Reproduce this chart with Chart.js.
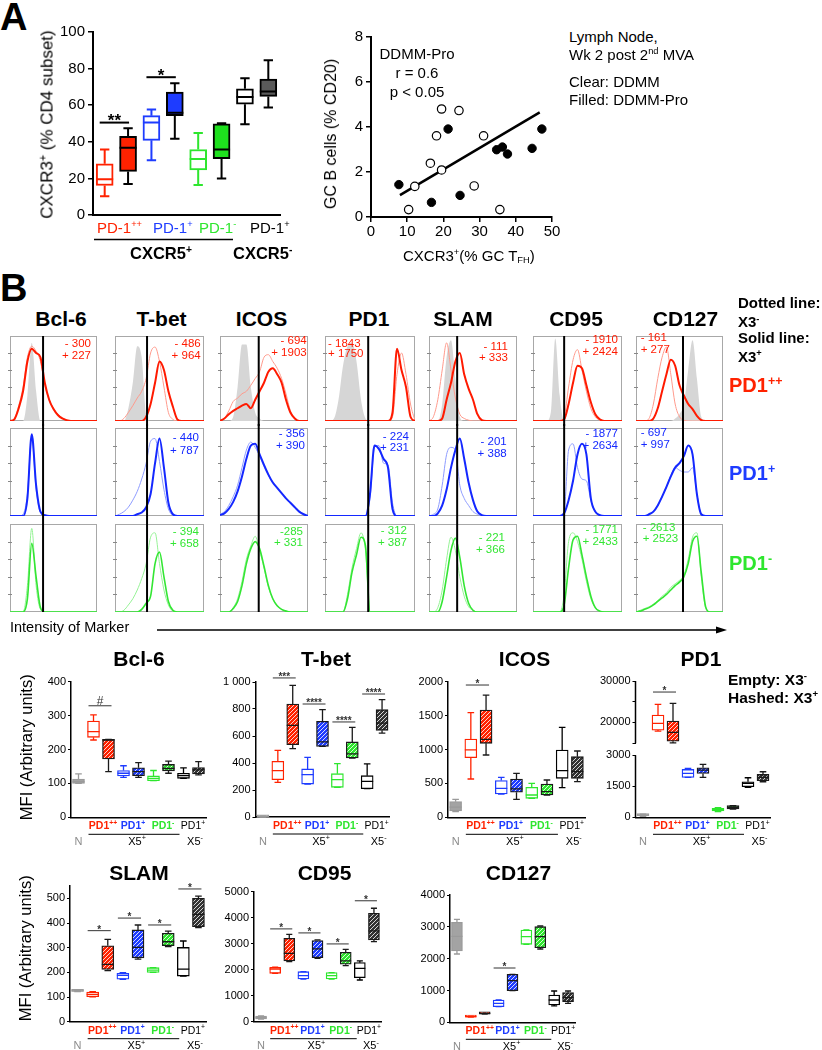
<!DOCTYPE html>
<html>
<head>
<meta charset="utf-8">
<script src="https://cdn.jsdelivr.net/npm/chart.js@4.4.1/dist/chart.umd.min.js"></script>
<style>
html,body{margin:0;padding:0;background:#fff;}
body{position:relative;width:822px;height:1050px;overflow:hidden;font-family:'Liberation Sans',Arial,Helvetica,sans-serif;}
canvas{position:absolute;}
.t{position:absolute;white-space:nowrap;line-height:1;}
.up{font-size:62%;position:relative;top:-0.6em;}
.dn{font-size:62%;position:relative;top:0.25em;}
svg{position:absolute;left:0;top:0;}
</style>
</head>
<body>
<svg width="822" height="1050">
  <line x1="94" y1="239.5" x2="233" y2="239.5" stroke="#000" stroke-width="1.5"/>
  <line x1="157" y1="630" x2="719" y2="630" stroke="#000" stroke-width="1.5"/>
  <polygon points="716,626.5 727,630 716,633.5" fill="#000"/>
</svg>
<script>
// ================= DATA =================
// Panel A : CXCR3+ (% CD4 subset)
const aCats = ['PD-1++ DDMM','PD-1++ DDMM-Pro','PD-1+ DDMM','PD-1+ DDMM-Pro','PD-1- DDMM','PD-1- DDMM-Pro','CXCR5- PD-1+ DDMM','CXCR5- PD-1+ DDMM-Pro'];
const aMin = [10.3, 17.0, 29.9, 41.7, 16.4, 20.0, 49.6, 58.7];
const aQ1  = [16.1, 23.8, 40.8, 54.3, 24.7, 30.8, 60.5, 64.8];
const aMed = [19.6, 36.7, 50.5, 55.9, 30.6, 35.8, 64.5, 67.5];
const aQ3  = [28.0, 43.0, 54.3, 67.2, 35.8, 49.8, 69.0, 74.3];
const aMax = [35.8, 47.4, 57.7, 72.0, 44.8, 50.1, 74.7, 84.6];
const aTicks = ['0','20','40','60','80','100'];
const aSig = [{a:0,b:1,y:50.5,t:'**',gap:6.7},{a:2,b:3,y:75.3,t:'*',gap:5.7}];

// Panel A : scatter
const ddmmX = [12.1, 10.4, 16.4, 18.1, 19.5, 28.5, 31.1, 35.6, 19.5, 24.3];
const ddmmY = [1.36, 0.33, 2.39, 3.61, 2.09, 1.38, 3.61, 0.33, 4.80, 4.73];
const proX  = [7.7, 21.3, 16.7, 24.6, 34.7, 36.3, 37.7, 44.5, 47.2];
const proY  = [1.44, 3.91, 0.65, 0.96, 2.99, 3.11, 2.80, 3.05, 3.91];
const fitX  = [8.0, 46.6];
const fitY  = [0.97, 4.65];

// Panel B : histograms (x = 0..100 % of panel, y = % of mode)
const markers = ['Bcl-6','T-bet','ICOS','PD1','SLAM','CD95','CD127'];
const histX = [0,5,10,15,20,25,30,35,40,45,50,55,60,65,70,75,80,85,90,95,100];
const gateX = [38, 36, 44, 48, 32, 35, 54];

const hBcl6Gray  = [0,0,0,0,30,92,35,0,0,0,0,0,0,0,0,0,0,0,0,0,0];
const hBcl6PPdot = [0,3,18,40,75,88,82,70,42,25,15,8,4,1,0,0,0,0,0,0,0];
const hBcl6PPsol = [0,2,15,35,70,85,80,75,45,25,14,7,3,1,0,0,0,0,0,0,0];
const hBcl6Pdot  = [0,0,0,2,25,90,30,4,1,0,0,0,0,0,0,0,0,0,0,0,0];
const hBcl6Psol  = [0,0,0,0,20,93,35,5,1,0,0,0,0,0,0,0,0,0,0,0,0];
const hBcl6Ndot  = [0,0,0,0,30,95,30,3,0,0,0,0,0,0,0,0,0,0,0,0,0];
const hBcl6Nsol  = [0,0,0,0,15,78,40,5,0,0,0,0,0,0,0,0,0,0,0,0,0];

const hTbetGray  = [0,0,0,15,45,88,75,8,0,0,0,0,0,0,0,0,0,0,0,0,0];
const hTbetPPdot = [0,0,3,10,18,27,35,50,80,87,70,40,10,2,0,0,0,0,0,0,0];
const hTbetPPsol = [0,0,0,0,0,0,0,5,20,45,70,60,35,17,2,0,0,0,0,0,0];
const hTbetPdot  = [0,2,5,10,18,28,42,60,85,88,62,30,8,1,0,0,0,0,0,0,0];
const hTbetPsol  = [0,0,0,0,0,2,4,10,25,60,88,55,15,2,0,0,0,0,0,0,0];
const hTbetNdot  = [0,0,2,8,15,25,38,55,85,90,55,25,8,1,0,0,0,0,0,0,0];
const hTbetNsol  = [0,0,0,0,0,0,3,10,18,55,68,40,12,2,0,0,0,0,0,0,0];

const hIcosGray  = [0,0,0,5,40,90,90,40,10,3,0,0,0,0,0,0,0,0,0,0,0];
const hIcosPPdot = [0,3,12,23,27,32,35,42,50,58,75,78,70,62,50,32,12,3,0,0,0];
const hIcosPPsol = [0,3,8,12,15,18,20,15,25,35,45,58,62,55,45,25,10,3,0,0,0];
const hIcosPdot  = [2,5,12,22,35,55,75,84,78,68,56,46,38,32,26,20,15,10,5,2,0];
const hIcosPsol  = [1,3,8,16,28,45,65,80,82,70,58,47,38,32,26,20,15,10,5,2,0];
const hIcosNdot  = [0,0,0,5,15,35,60,75,86,70,50,28,15,7,3,1,0,0,0,0,0];
const hIcosNsol  = [0,0,0,4,12,30,55,72,80,72,52,30,15,7,3,1,0,0,0,0,0];

const hPd1Gray   = [0,0,3,25,65,88,92,70,25,3,0,0,0,0,0,0,0,0,0,0,0];
const hPd1PPdot  = [0,0,0,0,0,0,0,0,0,0,0,0,0,0,0,5,55,80,55,20,0];
const hPd1PPsol  = [0,0,0,0,0,0,0,0,0,0,0,0,0,0,0,10,85,60,40,5,0];
const hPd1Pdot   = [0,0,0,0,0,0,0,0,0,0,20,78,80,60,58,15,0,0,0,0,0];
const hPd1Psol   = [0,0,0,0,0,0,0,0,0,0,25,80,76,65,55,8,0,0,0,0,0];
const hPd1Ndot   = [0,0,0,0,0,20,50,72,90,70,0,0,0,0,0,0,0,0,0,0,0];
const hPd1Nsol   = [0,0,0,0,0,15,45,65,85,75,0,0,0,0,0,0,0,0,0,0,0];

const hSlamGray  = [0,0,0,20,75,95,50,5,0,0,0,0,0,0,0,0,0,0,0,0,0];
const hSlamPPdot = [0,5,25,60,92,60,27,8,3,1,0,0,0,0,0,0,0,0,0,0,0];
const hSlamPPsol = [0,0,0,3,25,45,70,80,55,38,25,8,1,0,0,0,0,0,0,0,0];
const hSlamPdot  = [0,2,8,35,70,78,75,35,20,12,5,2,0,0,0,0,0,0,0,0,0];
const hSlamPsol  = [0,0,3,12,30,55,75,88,65,38,18,5,1,0,0,0,0,0,0,0,0];
const hSlamNdot  = [0,0,5,25,60,85,70,40,18,6,2,0,0,0,0,0,0,0,0,0,0];
const hSlamNsol  = [0,0,0,12,40,70,84,62,30,10,2,0,0,0,0,0,0,0,0,0,0];

const hCd95Gray  = [0,0,0,0,10,97,30,0,0,0,0,0,0,0,0,0,0,0,0,0,0];
const hCd95PPdot = [0,0,0,0,0,0,0,5,40,72,84,60,35,15,5,1,0,0,0,0,0];
const hCd95PPsol = [0,0,0,0,0,0,0,2,20,45,65,62,42,22,8,2,0,0,0,0,0];
const hCd95Pdot  = [0,0,0,0,0,0,0,5,75,82,55,42,40,18,5,1,0,0,0,0,0];
const hCd95Psol  = [0,0,0,0,0,0,0,3,18,40,70,82,70,20,5,1,0,0,0,0,0];
const hCd95Ndot  = [0,0,0,0,0,0,0,20,80,90,80,60,35,15,5,1,0,0,0,0,0];
const hCd95Nsol  = [0,0,0,0,0,0,0,8,50,82,86,65,40,18,5,1,0,0,0,0,0];

const hCd127Gray  = [0,0,0,0,0,0,0,0,0,3,8,20,60,95,50,5,0,0,0,0,0];
const hCd127PPdot = [0,0,0,3,20,50,75,87,55,20,5,1,0,0,0,0,0,0,0,0,0];
const hCd127PPsol = [0,0,0,0,3,15,35,55,72,65,42,30,20,14,6,1,0,0,0,0,0];
const hCd127Pdot  = [0,0,0,2,5,12,22,33,46,55,52,50,50,55,25,2,0,0,0,0,0];
const hCd127Psol  = [0,0,0,2,5,12,22,33,45,55,60,68,80,70,25,2,0,0,0,0,0];
const hCd127Ndot  = [0,2,4,6,9,13,18,22,28,32,36,42,60,85,90,40,5,0,0,0,0];
const hCd127Nsol  = [0,1,3,5,8,12,16,20,25,30,34,40,55,80,86,45,6,0,0,0,0];

// MFI annotations (X3- / X3+) per row (PD1++, PD1+, PD1-) and marker
const annNeg = [['- 300','- 486','- 694','- 1843','- 111','- 1910','- 161'],
                [null,'- 440','- 356','- 224','- 201','- 1877','- 697'],
                [null,'- 394','-285','- 312','- 221','- 1771','- 2613']];
const annPos = [['+ 227','+ 964','+ 1903','+ 1750','+ 333','+ 2424','+ 277'],
                [null,'+ 787','+ 390','+ 231','+ 388','+ 2634','+ 997'],
                [null,'+ 658','+ 331','+ 387','+ 366','+ 2433','+ 2523']];

// Panel B : box plots (MFI)
const bCats = ['N','PD1++ X3-','PD1++ X3+','PD1+ X3-','PD1+ X3+','PD1- X3-','PD1- X3+','X5- PD1+ X3-','X5- PD1+ X3+'];

const bcl6Min = [100, 228, 135, 118, 118, 108, 130, 115, 125];
const bcl6Q1  = [100, 236, 172, 122, 123, 108, 137, 115, 128];
const bcl6Med = [105, 253, 228, 130, 135, 115, 144, 123, 140];
const bcl6Q3  = [113, 284, 230, 138, 146, 122, 156, 130, 147];
const bcl6Max = [128, 302, 230, 152, 161, 138, 166, 146, 164];
const bcl6Ticks = ['0','100','200','300','400'];
const bcl6Sig = [{a:1,b:2,y:329,t:'#'}];

const tbetMin = [0, 257, 506, 244, 523, 220, 437, 210, 622];
const tbetQ1  = [2, 277, 536, 244, 523, 220, 437, 210, 642];
const tbetMed = [4, 343, 679, 314, 556, 277, 467, 264, 696];
const tbetQ3  = [6, 412, 837, 356, 709, 321, 556, 306, 795];
const tbetMax = [8, 494, 975, 442, 795, 395, 664, 393, 869];
const tbetTicks = ['0','200','400','600','800','1 000'];
const tbetSig = [{a:1,b:2,y:1030,t:'***'},{a:3,b:4,y:837,t:'****'},{a:5,b:6,y:704,t:'****'},{a:7,b:8,y:911,t:'****'}];

const icosMin = [84, 565, 919, 344, 265, 280, 329, 437, 526];
const icosQ1  = [93, 880, 1091, 344, 369, 280, 329, 575, 575];
const icosMed = [150, 993, 1150, 428, 418, 329, 378, 688, 673];
const icosQ3  = [231, 1155, 1582, 541, 565, 442, 491, 993, 894];
const icosMax = [265, 1543, 1803, 590, 649, 501, 550, 1327, 978];
const icosTicks = ['0','500','1000','1500','2000'];
const icosSig = [{a:1,b:2,y:1951,t:'*'}];

const pd1Min = [50, 17903, 15081, 1925, 1925, 273, 401, 1444, 1716];
const pd1Q1  = [80, 18145, 15484, 1925, 2117, 305, 401, 1476, 1764];
const pd1Med = [100, 19758, 17581, 2118, 2278, 385, 481, 1636, 1925];
const pd1Q3  = [130, 21774, 20323, 2310, 2390, 433, 561, 1716, 2069];
const pd1Max = [150, 24355, 24597, 2358, 2551, 465, 561, 1909, 2198];
const pd1TickVals = [0, 1500, 3000, 20000, 30000];
const pd1MinorTicks = [15000, 25000];
const pd1Break = [3000, 15000];
const pd1Sig = [{a:1,b:2,y:27337,t:'*'}];

const slamMin = [122, 101, 207, 172, 254, 200, 304, 185, 381];
const slamQ1  = [123, 101, 212, 172, 259, 200, 308, 185, 385];
const slamMed = [125, 111, 232, 188, 301, 209, 324, 213, 435];
const slamQ3  = [127, 120, 308, 196, 372, 219, 358, 301, 500];
const slamMax = [128, 122, 334, 199, 392, 219, 367, 327, 509];
const slamTicks = ['0','100','200','300','400','500'];
const slamSig = [{a:1,b:2,y:369,t:'*'},{a:3,b:4,y:420,t:'*'},{a:5,b:6,y:392,t:'*'},{a:7,b:8,y:538,t:'*'}];

const cd95Min = [100, 1918, 2381, 1693, 2514, 1693, 2223, 1654, 3175];
const cd95Q1  = [110, 1918, 2408, 1693, 2540, 1693, 2276, 1746, 3241];
const cd95Med = [160, 2090, 2712, 1826, 2884, 1826, 2408, 2117, 3598];
const cd95Q3  = [220, 2156, 3307, 1984, 3215, 1945, 2752, 2342, 4300];
const cd95Max = [230, 2160, 3466, 1984, 3241, 1945, 2871, 2408, 4498];
const cd95Ticks = ['0','1000','2000','3000','4000','5000'];
const cd95Sig = [{a:1,b:2,y:3679,t:'*'},{a:3,b:4,y:3520,t:'*'},{a:5,b:6,y:3083,t:'*'},{a:7,b:8,y:4794,t:'*'}];

const cd127Min = [2146, 160, 260, 492, 995, 2450, 2303, 513, 597];
const cd127Q1  = [2241, 165, 265, 492, 995, 2450, 2345, 544, 649];
const cd127Med = [2700, 178, 272, 597, 1309, 2691, 2691, 701, 775];
const cd127Q3  = [3141, 190, 280, 701, 1508, 2900, 3005, 859, 932];
const cd127Max = [3235, 195, 285, 701, 1508, 2900, 3026, 984, 984];
const cd127Ticks = ['0','1000','2000','3000','4000'];
const cd127Sig = [{a:3,b:4,y:1706,t:'*'}];

const groupMain = ['PD1','PD1','PD1','PD1'];
const groupSup  = ['++','+','-','+'];

// ================= STYLE / HELPERS =================
const FF = "'Liberation Sans', Arial, Helvetica, sans-serif";
Chart.defaults.font.family = FF;
Chart.defaults.color = '#000';
const RED = '#ff2200', BLUE = '#1e3cff', GREEN = '#2ee62e';
const HC = [{s:'#ff1a00', l:'#ff9a8c'}, {s:'#1428ff', l:'#8d9bff'}, {s:'#33e633', l:'#95f295'}];

function mkCanvas(l, t, w, h) {
  const c = document.createElement('canvas');
  c.width = w; c.height = h;
  c.style.left = l + 'px'; c.style.top = t + 'px';
  c.style.width = w + 'px'; c.style.height = h + 'px';
  document.body.appendChild(c);
  return c;
}
function txt(html, x, y, size, o) {
  o = o || {};
  const d = document.createElement('div');
  d.className = 't'; d.innerHTML = html;
  d.style.fontSize = size + 'px';
  if (o.bold) d.style.fontWeight = 'bold';
  d.style.color = o.color || '#000';
  d.style.left = x + 'px'; d.style.top = (y - 0.5 * size) + 'px';
  let tr = '';
  if (o.align === 'center') tr = 'translateX(-50%)';
  else if (o.align === 'right') tr = 'translateX(-100%)';
  if (o.rot) tr = 'translateX(-50%) rotate(-90deg)';
  d.style.transform = tr;
  document.body.appendChild(d);
}
function hatch(col) {
  const c = document.createElement('canvas'); c.width = 4; c.height = 4;
  const g = c.getContext('2d');
  g.fillStyle = col; g.fillRect(0, 0, 4, 4);
  g.strokeStyle = 'rgba(255,255,255,0.8)'; g.lineWidth = 1;
  g.beginPath(); g.moveTo(-1, 5); g.lineTo(5, -1); g.stroke();
  return g.createPattern(c, 'repeat');
}
function drawSup(ctx, cx, cy, main, sup, size, bold, color, align) {
  const f1 = (bold ? 'bold ' : '') + size + 'px ' + FF;
  const f2 = (bold ? 'bold ' : '') + (size * 0.65).toFixed(1) + 'px ' + FF;
  ctx.font = f1; const w1 = ctx.measureText(main).width;
  ctx.font = f2; const w2 = sup ? ctx.measureText(sup).width : 0;
  const x = align === 'center' ? cx - (w1 + w2) / 2 : cx;
  const base = cy + 0.36 * size;
  ctx.fillStyle = color; ctx.textAlign = 'left'; ctx.textBaseline = 'alphabetic';
  ctx.font = f1; ctx.fillText(main, x, base);
  if (sup) { ctx.font = f2; ctx.fillText(sup, x + w1, base - 0.42 * size); }
}

// box plot plugin factory (whiskers, medians, significance, group labels)
function boxPlugin(cfg) {
  return {
    id: 'boxes',
    afterDatasetsDraw(chart) {
      const ctx = chart.ctx, xs = chart.scales.x, ys = chart.scales.y, a = chart.chartArea;
      const tf = cfg.tf || (v => v);
      const Y = v => ys.getPixelForValue(tf(v));
      const px = i => xs.getPixelForValue(i);
      const S = cfg.S;
      ctx.save();
      if (cfg.brk) {
        ctx.strokeStyle = '#000'; ctx.lineWidth = cfg.axW;
        ctx.beginPath();
        ctx.moveTo(a.left, Y(0) + 0.75); ctx.lineTo(a.left, Y(cfg.brk[0]));
        ctx.moveTo(a.left, Y(cfg.brk[1])); ctx.lineTo(a.left, a.top);
        ctx.stroke();
      }
      for (let i = 0; i < S.med.length; i++) {
        const x = px(i), hw = cfg.bw / 2, cw = cfg.bw * cfg.cap / 2;
        ctx.strokeStyle = cfg.lines[i]; ctx.lineWidth = cfg.lw;
        ctx.beginPath();
        ctx.moveTo(x, Y(S.q3[i])); ctx.lineTo(x, Y(S.max[i]));
        ctx.moveTo(x - cw, Y(S.max[i])); ctx.lineTo(x + cw, Y(S.max[i]));
        ctx.moveTo(x, Y(S.q1[i])); ctx.lineTo(x, Y(S.min[i]));
        ctx.moveTo(x - cw, Y(S.min[i])); ctx.lineTo(x + cw, Y(S.min[i]));
        ctx.moveTo(x - hw, Y(S.med[i])); ctx.lineTo(x + hw, Y(S.med[i]));
        ctx.stroke();
      }
      (cfg.sig || []).forEach(s => {
        const y = Y(s.y);
        const x0 = px(s.a) - cfg.sigL, x1 = px(s.b) + cfg.sigR;
        ctx.strokeStyle = cfg.sigColor; ctx.lineWidth = cfg.sigLW;
        ctx.beginPath(); ctx.moveTo(x0, y); ctx.lineTo(x1, y); ctx.stroke();
        ctx.fillStyle = cfg.sigColor; ctx.font = cfg.sigFont;
        ctx.textAlign = 'center'; ctx.textBaseline = 'alphabetic';
        const gap = s.gap !== undefined ? s.gap : (s.t === '#' ? 5 : 3.5);
        const k = s.t === '#' ? 0.35 : 0.57;
        ctx.fillText(s.t, (x0 + x1) / 2, y - gap + k * cfg.sigSize);
      });
      if (cfg.groups) {
        const b = a.bottom;
        const cols = [RED, BLUE, GREEN, '#000'];
        [1, 3, 5, 7].forEach((gi, k) => {
          const cx = (px(gi) + px(gi + 1)) / 2 + 2;
          drawSup(ctx, cx, b + 8.4, groupMain[k], groupSup[k], 10.5, k < 3, cols[k], 'center');
        });
        ctx.strokeStyle = '#000'; ctx.lineWidth = 1;
        ctx.beginPath(); ctx.moveTo(px(1) - 5, b + 17); ctx.lineTo(px(6) + 11, b + 17); ctx.stroke();
        drawSup(ctx, px(0), b + 23.7, 'N', '', 11, false, '#8c8c8c', 'center');
        drawSup(ctx, (px(1) + px(6)) / 2 + 6, b + 23.7, 'X5', '+', 11, false, '#000', 'center');
        drawSup(ctx, (px(7) + px(8)) / 2 + 4, b + 23.7, 'X5', '-', 11, false, '#000', 'center');
      }
      ctx.restore();
    }
  };
}

function boxChart(g, S, o) {
  const cv = mkCanvas(g.cl, g.ct, g.cw, g.ch);
  const tf = o.tf || (v => v);
  return new Chart(cv, {
    type: 'bar',
    data: {
      labels: o.cats,
      datasets: [{
        data: S.q1.map((v, i) => [tf(v), tf(S.q3[i])]),
        backgroundColor: o.fills, borderColor: o.edges, borderWidth: o.lw,
        borderSkipped: false, barThickness: o.bw, minBarLength: 2
      }]
    },
    options: {
      responsive: false, animation: false, devicePixelRatio: 1,
      layout: { autoPadding: false, padding: { left: 0, top: g.t - g.ct, right: g.cl + g.cw - g.r, bottom: 0 } },
      plugins: { legend: { display: false }, tooltip: { enabled: false } },
      scales: {
        x: {
          grid: { display: false }, ticks: { display: false },
          border: { display: true, color: '#000', width: o.axW },
          afterFit: s => { s.height = g.ct + g.ch - g.b; }
        },
        y: {
          min: o.ymin, max: o.ymax,
          ticks: { stepSize: o.step, includeBounds: false, autoSkip: false, font: { size: o.fs }, padding: o.tp, color: '#000',
                   callback: o.tickCb || ((v, i) => o.tickLabels[i]) },
          afterBuildTicks: o.afterBuildTicks,
          grid: { display: true, drawOnChartArea: false, drawTicks: true, tickLength: o.tl, color: '#000', lineWidth: o.tw },
          border: { display: !o.brk, color: '#000', width: o.axW },
          afterFit: s => { s.width = g.l - g.cl; }
        }
      }
    },
    plugins: [boxPlugin({ S, tf: o.tf, lines: o.edges, bw: o.bw, cap: 0.55, lw: o.lw, axW: o.axW, brk: o.brk,
      sig: o.sig, sigL: o.sigL, sigR: o.sigR, sigColor: o.sigColor, sigLW: o.sigLW, sigFont: o.sigFont, sigSize: o.sigSize,
      groups: o.groups })]
  });
}

// ================= PANEL A =================
txt('A', 0, 17, 38, { bold: true });
boxChart({ cl: 40, ct: 15, cw: 250, ch: 212, l: 93, t: 32, r: 280, b: 218 },
  { min: aMin, q1: aQ1, med: aMed, q3: aQ3, max: aMax },
  { cats: aCats, ymin: 0, ymax: 100, step: 20, tickLabels: aTicks, fs: 15, tp: 3, tl: 5, tw: 1.5, axW: 2,
    bw: 17, lw: 2,
    fills: ['#fff', RED, '#fff', BLUE, '#fff', '#1ee01e', '#fff', '#5a5a5a'],
    edges: [RED, '#000', BLUE, '#000', GREEN, '#000', '#000', '#000'],
    sig: aSig, sigL: 5, sigR: 1, sigColor: '#000', sigLW: 2, sigFont: 'bold 17px ' + FF, sigSize: 17 });
txt('CXCR3<span class="up">+</span> (% CD4 subset)', 47, 124, 17, { rot: true });
txt('PD-1<span class="up">++</span>', 97, 227, 15, { color: RED });
txt('PD-1<span class="up">+</span>', 153, 227, 15, { color: BLUE });
txt('PD-1<span class="up">-</span>', 199, 227, 15, { color: GREEN });
txt('PD-1<span class="up">+</span>', 250, 227, 15);
txt('CXCR5<span class="up">+</span>', 130, 253, 16.5, { bold: true });
txt('CXCR5<span class="up">-</span>', 233, 253, 16.5, { bold: true });

// scatter
(function () {
  const sc = mkCanvas(300, 20, 262, 230);
  const tickGrid = { drawOnChartArea: false, drawTicks: true, tickLength: 5, color: '#000', lineWidth: 1.5 };
  new Chart(sc, {
    type: 'scatter',
    data: { datasets: [
      { data: ddmmX.map((x, i) => ({ x, y: ddmmY[i] })), pointRadius: 4.2, pointBackgroundColor: '#fff', pointBorderColor: '#000', pointBorderWidth: 1.2 },
      { data: proX.map((x, i) => ({ x, y: proY[i] })), pointRadius: 4.2, pointBackgroundColor: '#000', pointBorderColor: '#000', pointBorderWidth: 1 },
      { type: 'line', data: fitX.map((x, i) => ({ x, y: fitY[i] })), borderColor: '#000', borderWidth: 2.5, pointRadius: 0, fill: false }
    ]},
    options: {
      responsive: false, animation: false, devicePixelRatio: 1,
      layout: { autoPadding: false, padding: { left: 0, top: 17, right: 10, bottom: 0 } },
      plugins: { legend: { display: false }, tooltip: { enabled: false } },
      scales: {
        x: { type: 'linear', min: 0, max: 50, ticks: { stepSize: 10, font: { size: 15 }, padding: 1, color: '#000' },
             grid: tickGrid, border: { color: '#000', width: 2 }, afterFit: s => { s.height = 33; } },
        y: { min: 0, max: 8, ticks: { stepSize: 2, font: { size: 15 }, padding: 3, color: '#000' },
             grid: tickGrid, border: { color: '#000', width: 2 }, afterFit: s => { s.width = 71; } }
      }
    }
  });
})();
txt('GC B cells (% CD20)', 331, 134, 16, { rot: true });
txt('CXCR3<span class="up">+</span>(% GC T<span class="dn">FH</span>)', 403, 255, 15);
txt('DDMM-Pro', 417, 53, 15, { align: 'center' });
txt('r = 0.6', 417, 72, 15, { align: 'center' });
txt('p &lt; 0.05', 417, 91, 15, { align: 'center' });
txt('Lymph Node,', 569, 36, 15);
txt('Wk 2 post 2<span class="up">nd</span> MVA', 569, 54, 15);
txt('Clear: DDMM', 569, 81, 15);
txt('Filled: DDMM-Pro', 569, 99, 15);

// ================= PANEL B : histograms =================
txt('B', 0, 287.5, 38, { bold: true });
const headX = [61, 161.5, 261.5, 369, 463, 576, 685.5];
markers.forEach((m, i) => txt(m, headX[i], 318.5, 21, { bold: true, align: 'center' }));
txt('Dotted line:', 738, 302.5, 15, { bold: true });
txt('X3<span class="up">-</span>', 738, 321.7, 15, { bold: true });
txt('Solid line:', 738, 337.5, 15, { bold: true });
txt('X3<span class="up">+</span>', 738, 356, 15, { bold: true });
txt('PD1<span class="up">++</span>', 729, 385, 20, { bold: true, color: RED });
txt('PD1<span class="up">+</span>', 729, 473, 20, { bold: true, color: BLUE });
txt('PD1<span class="up">-</span>', 729, 563, 20, { bold: true, color: GREEN });

const histGray = [hBcl6Gray, hTbetGray, hIcosGray, hPd1Gray, hSlamGray, hCd95Gray, hCd127Gray];
const histDot = [[hBcl6PPdot, hBcl6Pdot, hBcl6Ndot], [hTbetPPdot, hTbetPdot, hTbetNdot], [hIcosPPdot, hIcosPdot, hIcosNdot],
                 [hPd1PPdot, hPd1Pdot, hPd1Ndot], [hSlamPPdot, hSlamPdot, hSlamNdot], [hCd95PPdot, hCd95Pdot, hCd95Ndot],
                 [hCd127PPdot, hCd127Pdot, hCd127Ndot]];
const histSol = [[hBcl6PPsol, hBcl6Psol, hBcl6Nsol], [hTbetPPsol, hTbetPsol, hTbetNsol], [hIcosPPsol, hIcosPsol, hIcosNsol],
                 [hPd1PPsol, hPd1Psol, hPd1Nsol], [hSlamPPsol, hSlamPsol, hSlamNsol], [hCd95PPsol, hCd95Psol, hCd95Nsol],
                 [hCd127PPsol, hCd127Psol, hCd127Nsol]];

const colL = [10, 115, 220, 325, 429, 533, 636], colR = [97, 204, 308, 415, 517, 622, 723];
const rowT = [336, 428, 524], rowB = [421, 516, 612];
const cvT = [335, 424, 520], cvB = [426, 520, 613];

function histPlugin(gate, row) {
  return {
    id: 'hist',
    beforeDatasetsDraw(chart) {
      const ctx = chart.ctx, a = chart.chartArea, ys = chart.scales.y;
      ctx.save();
      ctx.strokeStyle = '#a8a8a8'; ctx.lineWidth = 1;
      ctx.strokeRect(Math.round(a.left) + 0.5, Math.round(a.top) + 0.5, Math.round(a.right - a.left) - 1, Math.round(a.bottom - a.top) - 1);
      ctx.strokeStyle = '#888';
      ctx.beginPath();
      [20, 40, 60, 80].forEach(v => { const y = Math.round(ys.getPixelForValue(v)) + 0.5; ctx.moveTo(a.left - 2, y); ctx.lineTo(a.left + 2, y); });
      ctx.stroke();
      ctx.restore();
    },
    afterDatasetsDraw(chart) {
      const ctx = chart.ctx, a = chart.chartArea;
      const x = chart.scales.x.getPixelForValue(gate);
      const y0 = row === 0 ? a.top : 0, y1 = row === 2 ? a.bottom : chart.height;
      ctx.save(); ctx.strokeStyle = '#000'; ctx.lineWidth = 2;
      ctx.beginPath(); ctx.moveTo(x, y0); ctx.lineTo(x, y1); ctx.stroke(); ctx.restore();
    }
  };
}
const pts = arr => histX.map((x, i) => ({ x, y: arr[i] }));
for (let c = 0; c < 7; c++) {
  for (let r = 0; r < 3; r++) {
    const cl = colL[c] - 4, cw = colR[c] - colL[c] + 8;
    const cv = mkCanvas(cl, cvT[r], cw, cvB[r] - cvT[r]);
    const ds = [
      { data: pts(histSol[c][r]), borderColor: HC[r].s, borderWidth: r === 2 ? 1.6 : 2, pointRadius: 0, cubicInterpolationMode: 'monotone', fill: false },
      { data: pts(histDot[c][r]), borderColor: HC[r].l, borderWidth: 1, pointRadius: 0, cubicInterpolationMode: 'monotone', fill: false }
    ];
    if (r === 0) ds.push({ data: pts(histGray[c]), borderColor: 'rgba(0,0,0,0)', borderWidth: 0, backgroundColor: '#d6d6d6',
                           fill: 'origin', pointRadius: 0, cubicInterpolationMode: 'monotone' });
    new Chart(cv, {
      type: 'line',
      data: { datasets: ds },
      options: {
        responsive: false, animation: false, devicePixelRatio: 1,
        layout: { autoPadding: false, padding: { left: 4, right: 4, top: rowT[r] - cvT[r], bottom: cvB[r] - rowB[r] } },
        plugins: { legend: { display: false }, tooltip: { enabled: false } },
        scales: { x: { type: 'linear', min: 0, max: 100, display: false }, y: { min: 0, max: 100, display: false } }
      },
      plugins: [histPlugin(gateX[c], r)]
    });
  }
}
// annotations
const annX = [[91, 200.7, 306.7, 328, 508, 618, 640.7], [0, 199, 305, 409, 506.7, 618, 640.7], [0, 199, 303, 407, 505, 618, 642.7]];
const annLeft = [[0,0,0,1,0,0,1],[0,0,0,0,0,0,1],[0,0,0,0,0,0,1]];
const annY1 = [[344, 343.3, 340.7, 343.3, 346.7, 340, 338], [0, 437.7, 434, 436.7, 442, 434, 432.7], [0, 531.7, 531.7, 531, 538, 530, 527.7]];
const annY2 = [[356, 355.7, 352.7, 353.5, 358, 351.7, 350], [0, 450.3, 445.7, 447.7, 454, 446, 445], [0, 544, 543, 542.7, 550, 541.7, 539]];
for (let r = 0; r < 3; r++) for (let c = 0; c < 7; c++) {
  if (!annNeg[r][c]) continue;
  const al = annLeft[r][c] ? 'left' : 'right';
  txt(annNeg[r][c], annX[r][c], annY1[r][c], 11.5, { color: HC[r].s, align: al });
  txt(annPos[r][c], annX[r][c], annY2[r][c], 11.5, { color: HC[r].s, align: al });
}
txt('Intensity of Marker', 10, 627, 14.5);

// ================= PANEL B : box plots =================
const bFills = ['#a3a3a3', '#fff', hatch(RED), '#fff', hatch(BLUE), '#fff', hatch(GREEN), '#fff', hatch('#333')];
const bEdges = ['#9a9a9a', RED, '#1a1a1a', BLUE, '#1a1a1a', GREEN, '#1a1a1a', '#000', '#1a1a1a'];
const bStyle = { cats: bCats, fs: 11, tp: 2, tl: 3, tw: 1, axW: 1.5, bw: 12, lw: 1.3, fills: bFills, edges: bEdges,
                 sigL: 5, sigR: 3, sigColor: '#333', sigLW: 1, sigFont: 'bold 10px ' + FF, sigSize: 10, groups: true };

boxChart({ cl: 20, ct: 670, cw: 200, ch: 185, l: 71, t: 681.7, r: 206, b: 817.3 },
  { min: bcl6Min, q1: bcl6Q1, med: bcl6Med, q3: bcl6Q3, max: bcl6Max },
  Object.assign({}, bStyle, { ymin: 0, ymax: 400, step: 100, tickLabels: bcl6Ticks, sig: bcl6Sig, sigFont: '12px ' + FF, sigSize: 12 }));
boxChart({ cl: 205, ct: 670, cw: 200, ch: 185, l: 255.5, t: 682, r: 389.5, b: 817 },
  { min: tbetMin, q1: tbetQ1, med: tbetMed, q3: tbetQ3, max: tbetMax },
  Object.assign({}, bStyle, { ymin: 0, ymax: 1000, step: 200, tickLabels: tbetTicks, sig: tbetSig }));
boxChart({ cl: 400, ct: 670, cw: 200, ch: 185, l: 448, t: 681.7, r: 585, b: 817.3 },
  { min: icosMin, q1: icosQ1, med: icosMed, q3: icosQ3, max: icosMax },
  Object.assign({}, bStyle, { ymin: 0, ymax: 2000, step: 500, tickLabels: icosTicks, sig: icosSig }));

// PD1 with broken axis (0-3000 | 15000-30000)
const pd1Gap = 580, pd1UpFactor = (pd1Break[0]) / (30000 - pd1Break[1]);
const pd1Tf = v => v <= pd1Break[0] ? v : pd1Break[0] + pd1Gap + (v - pd1Break[1]) * pd1UpFactor;
const pd1Inv = v => v <= pd1Break[0] ? v : Math.round(pd1Break[1] + (v - pd1Break[0] - pd1Gap) / pd1UpFactor);
boxChart({ cl: 585, ct: 670, cw: 200, ch: 185, l: 635.5, t: 681, r: 770.5, b: 817.3 },
  { min: pd1Min, q1: pd1Q1, med: pd1Med, q3: pd1Q3, max: pd1Max },
  Object.assign({}, bStyle, { ymin: 0, ymax: pd1Tf(30000), tf: pd1Tf, brk: pd1Break, sig: pd1Sig,
    afterBuildTicks: s => { s.ticks = pd1TickVals.concat(pd1MinorTicks).sort((p, q) => p - q).map(v => ({ value: pd1Tf(v) })); },
    tickCb: v => { const r = pd1Inv(v); return pd1TickVals.includes(r) ? String(r) : ''; } }));

boxChart({ cl: 20, ct: 875, cw: 200, ch: 175, l: 70, t: 886, r: 206, b: 1021.7 },
  { min: slamMin, q1: slamQ1, med: slamMed, q3: slamQ3, max: slamMax },
  Object.assign({}, bStyle, { ymin: 0, ymax: 550, step: 100, tickLabels: slamTicks, sig: slamSig }));
boxChart({ cl: 205, ct: 875, cw: 195, ch: 175, l: 254, t: 891.8, r: 381, b: 1021.7 },
  { min: cd95Min, q1: cd95Q1, med: cd95Med, q3: cd95Q3, max: cd95Max },
  Object.assign({}, bStyle, { ymin: 0, ymax: 5150, step: 1000, tickLabels: cd95Ticks, sig: cd95Sig, bw: 11 }));
boxChart({ cl: 400, ct: 875, cw: 190, ch: 175, l: 450, t: 895, r: 575, b: 1022.3 },
  { min: cd127Min, q1: cd127Q1, med: cd127Med, q3: cd127Q3, max: cd127Max },
  Object.assign({}, bStyle, { ymin: 0, ymax: 4000, step: 1000, tickLabels: cd127Ticks, sig: cd127Sig, bw: 11 }));

// box chart titles & labels
txt('Bcl-6', 139, 658, 21, { bold: true, align: 'center' });
txt('T-bet', 326, 658, 21, { bold: true, align: 'center' });
txt('ICOS', 524.5, 658, 21, { bold: true, align: 'center' });
txt('PD1', 701, 658, 21, { bold: true, align: 'center' });
txt('SLAM', 139, 872, 21, { bold: true, align: 'center' });
txt('CD95', 324.5, 872, 21, { bold: true, align: 'center' });
txt('CD127', 518.5, 872, 21, { bold: true, align: 'center' });
txt('Empty: X3<span class="up">-</span>', 728, 680, 15.5, { bold: true });
txt('Hashed: X3<span class="up">+</span>', 728, 697.7, 15.5, { bold: true });
txt('MFI (Arbitrary units)', 26, 747, 16.5, { rot: true });
txt('MFI (Arbitrary units)', 25, 948.5, 16.5, { rot: true });
</script>
</body>
</html>
